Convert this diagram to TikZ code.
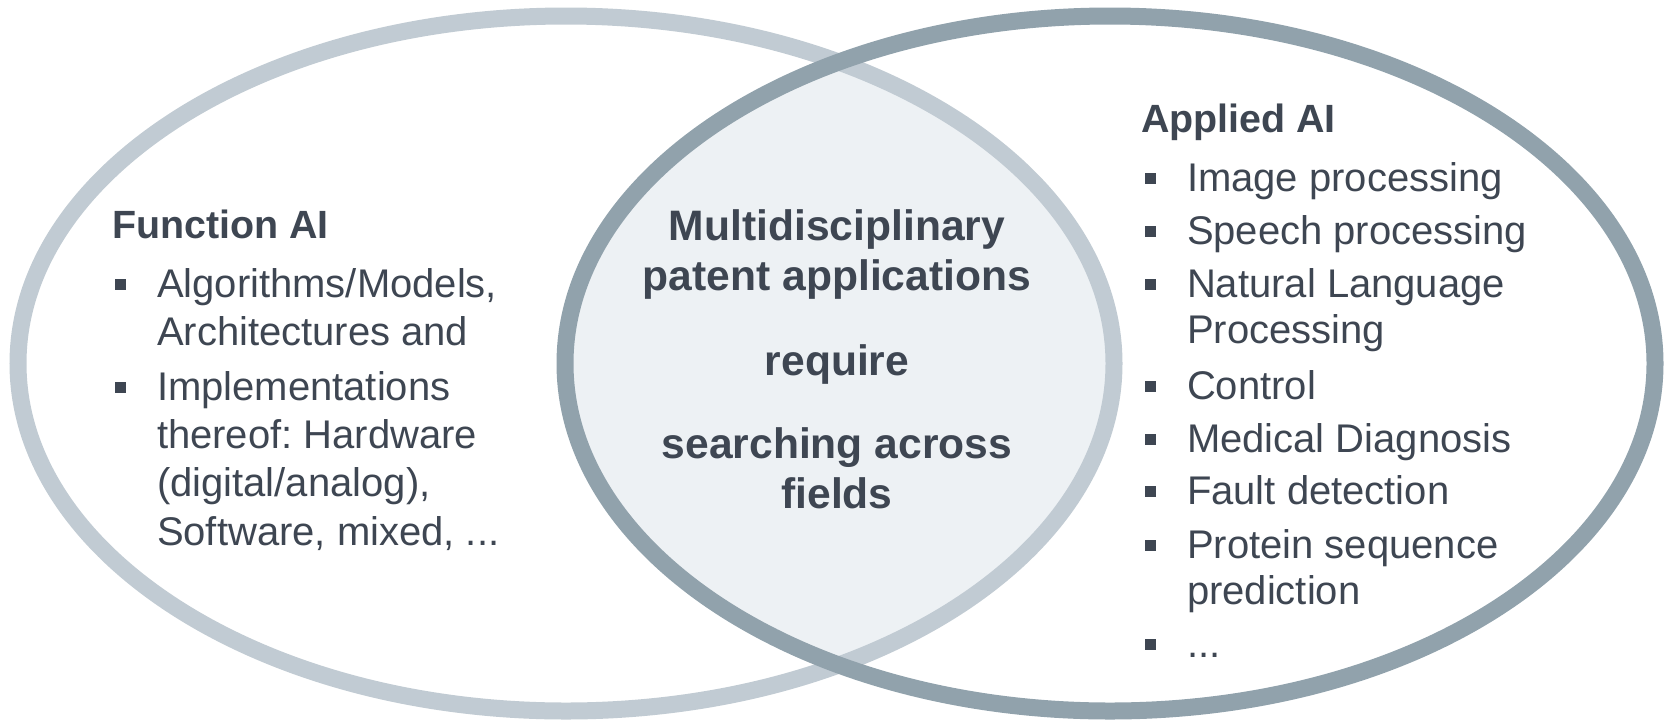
\documentclass[tikz,border=0pt]{standalone}
\usepackage{fontspec}
\setmainfont{Liberation Sans}
\frenchspacing
\definecolor{ringlight}{HTML}{C1CBD3}
\definecolor{ringdark}{HTML}{91A2AC}
\definecolor{lensfill}{HTML}{EDF1F4}
\definecolor{txt}{HTML}{3E4652}
\newcommand{\sqbul}{\llap{\rule[3.6pt]{5.4pt}{5.4pt}\hspace{15.5pt}}}
\newcommand{\leftlines}[1]{\begin{tabular}[t]{@{}l@{}}#1\end{tabular}}
\newcommand{\midlines}[1]{\begin{tabular}[t]{@{}c@{}}#1\end{tabular}}

\begin{document}
\begin{tikzpicture}[x=0.5pt,y=-0.5pt,
	every node/.style={inner sep=0pt,outer sep=0pt,text=txt},
	ring/.style={line width=8.5pt},
	lefttext/.style={anchor=base west,font=\fontsize{20}{24.2}\selectfont},
	righttext/.style={anchor=base west,font=\fontsize{20}{23.4}\selectfont},
	headtext/.style={anchor=base west,font=\fontsize{19.7}{24}\selectfont\bfseries},
	midtext/.style={anchor=base,font=\fontsize{21.3}{25}\selectfont\bfseries}]
	\useasboundingbox (0,0) rectangle (1665,719);
	% the overlap
	\begin{scope}
		\clip (566,363.5) ellipse [x radius=274pt, y radius=173.75pt];
		\fill [lensfill] (1110,363.5) ellipse [x radius=272.5pt, y radius=173.75pt];
	\end{scope}
	\draw [ring,ringlight] (566,363.5) ellipse [x radius=274pt, y radius=173.75pt];
	\draw [ring,ringdark] (1110,363.5) ellipse [x radius=272.5pt, y radius=173.75pt];
	% left set
	\node [headtext] (funchead) at (112,238) {Function AI};
	\node [lefttext] (funcA) at (157,297) {\leftlines{\sqbul Algorithms/Models,\\Architectures and}};
	\node [lefttext] (funcB) at (157,400) {\leftlines{\sqbul Implementations\\thereof: Hardware\\(digital/analog),\\Software, mixed, ...}};
	% middle
	\node [midtext] (multi) at (837,240) {\midlines{Multidisciplinary\\patent applications}};
	\node [midtext] (req) at (837,375) {require};
	\node [midtext] (search) at (837,458) {\midlines{searching across\\fields}};
	% right set
	\node [headtext] (apphead) at (1141,132) {Applied AI};
	\node [righttext] (appA) at (1187,191) {\sqbul Image processing};
	\node [righttext] (appB) at (1187,244) {\sqbul Speech processing};
	\node [righttext] (appC) at (1187,297) {\leftlines{\sqbul Natural Language\\Processing}};
	\node [righttext] (appD) at (1187,399) {\sqbul Control};
	\node [righttext] (appE) at (1187,452) {\sqbul Medical Diagnosis};
	\node [righttext] (appF) at (1187,504) {\sqbul Fault detection};
	\node [righttext] (appG) at (1187,558) {\leftlines{\sqbul Protein sequence\\prediction}};
	\node [righttext] (appH) at (1187,657) {\sqbul ...};
\end{tikzpicture}
\end{document}
